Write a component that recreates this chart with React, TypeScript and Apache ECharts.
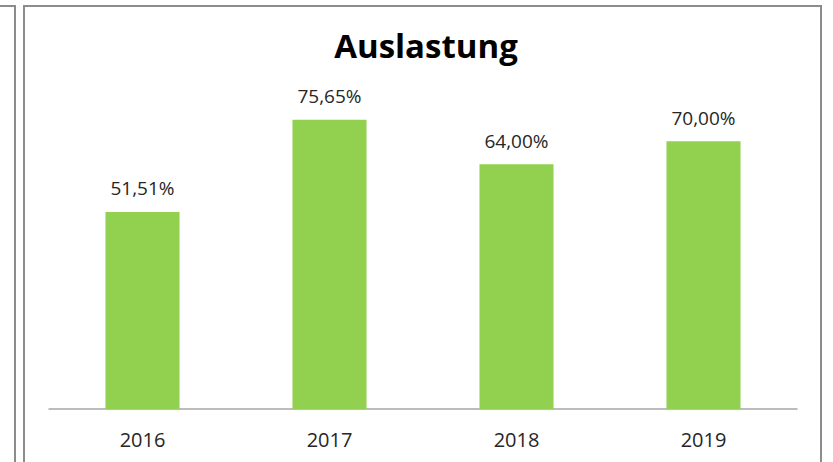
import React, { useEffect, useRef } from "react";
import * as echarts from "echarts";

const categories = ["2016", "2017", "2018", "2019"];
const values = [51.51, 75.65, 64.0, 70.0];
const titleText = "Auslastung";

export default function App() {
  const ref = useRef<HTMLDivElement>(null);
  useEffect(() => {
    const chart = echarts.init(ref.current!, null, { renderer: "svg" });
    chart.setOption({
      animation: false,
      backgroundColor: "#ffffff",
      title: {
        text: titleText,
        left: 421,
        textAlign: "center",
        top: 24,
        textStyle: {
          fontFamily: "Open Sans",
          fontWeight: "bold",
          fontSize: 33,
          color: "#000000",
        },
      },
      grid: { left: 49, right: 36, top: 26.5, bottom: 53 },
      xAxis: {
        type: "category",
        data: categories,
        axisLine: { lineStyle: { color: "#a6a6a6", width: 1.5 } },
        axisTick: { show: false },
        axisLabel: {
          color: "#262626",
          fontFamily: "Open Sans",
          fontSize: 20,
          margin: 20,
        },
      },
      yAxis: {
        type: "value",
        min: 0,
        max: 100,
        show: false,
        splitLine: { show: false },
      },
      series: [
        {
          type: "bar",
          data: values,
          barWidth: "39.6%",
          itemStyle: { color: "#92D050" },
          label: {
            show: true,
            position: "top",
            distance: 14,
            color: "#262626",
            fontFamily: "Open Sans",
            fontSize: 19,
            formatter: (p: any) => p.value.toFixed(2).replace(".", ",") + "%",
          },
        },
      ],
      graphic: [
        {
          type: "polyline",
          shape: { points: [[0, 6], [15, 6], [15, 462]] },
          style: { stroke: "#8c8c8c", lineWidth: 2, fill: "none" },
        },
        {
          type: "polyline",
          shape: { points: [[24, 462], [24, 6], [821, 6], [821, 462]] },
          style: { stroke: "#8c8c8c", lineWidth: 2, fill: "none" },
        },
      ],
    });
    return () => chart.dispose();
  }, []);
  return (
    <div
      ref={ref}
      style={{ position: "fixed", left: 0, top: 0, width: 833, height: 462 }}
    />
  );
}
